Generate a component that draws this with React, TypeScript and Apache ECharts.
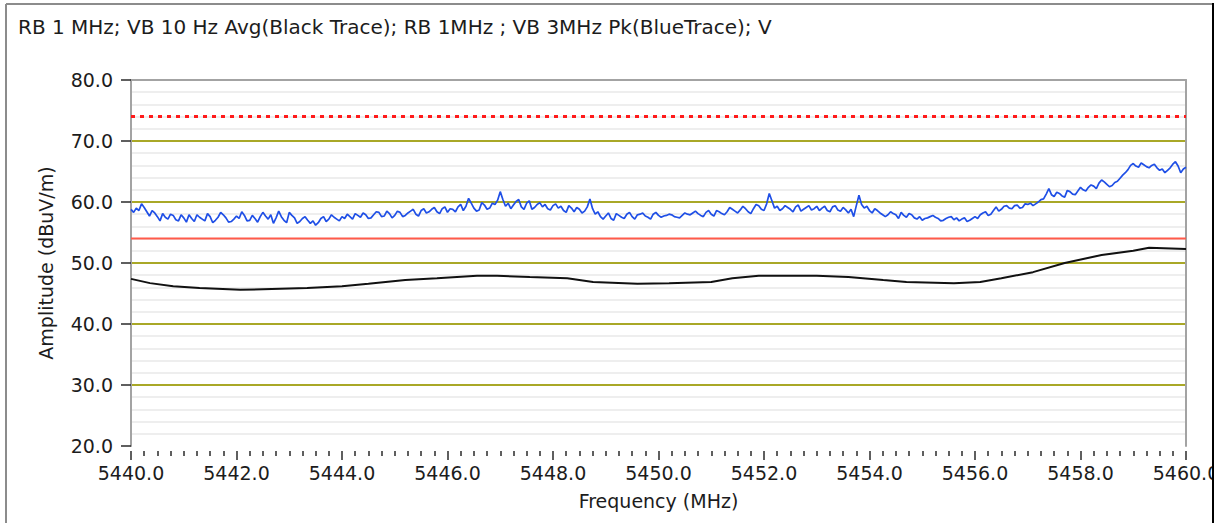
import React, { useEffect, useRef } from "react";
import * as echarts from "echarts";

// Sweep settings for the analyzer traces (MHz)
const sweepStart = 5440;
const sweepStep = 0.05;

// Peak detector trace (RB 1 MHz, VB 3 MHz), dBuV/m, one value per sweep step
const peakTrace = [
  58.8,
  58.3, 59.0, 58.6, 59.7, 59.1, 58.4, 57.7, 58.6, 58.2, 57.6, 56.9, 58.1, 57.5, 57.2, 58.0, 57.8, 57.1, 56.9, 57.9, 57.4,
  56.7, 57.9, 57.3, 56.8, 57.9, 57.5, 57.2, 56.9, 58.1, 57.6, 56.6, 57.0, 57.5, 58.3, 57.9, 57.4, 56.7, 56.8, 57.2, 57.7,
  57.3, 58.4, 57.8, 56.9, 57.0, 57.8, 57.3, 56.7, 57.6, 58.3, 57.7, 57.2, 57.9, 56.5, 57.4, 58.5, 57.6, 57.0, 56.6, 58.3,
  57.8, 57.4, 56.5, 56.8, 57.3, 57.6, 57.0, 56.5, 56.9, 56.2, 56.6, 57.3, 57.6, 56.8, 57.2, 57.9, 57.5, 57.2, 56.9, 57.6,
  57.3, 58.0, 57.6, 57.2, 58.1, 57.8, 57.5, 58.2, 57.9, 57.3, 57.4, 57.9, 58.4, 58.3, 57.6, 57.7, 58.5, 58.1, 57.4, 57.8,
  58.5, 58.3, 57.6, 57.8, 58.2, 58.5, 58.8, 58.0, 57.7, 58.6, 58.9, 58.2, 58.4, 58.8, 59.1, 58.4, 58.1, 58.9, 59.2, 58.3,
  58.9, 58.8, 58.4, 59.2, 59.6, 58.6, 59.3, 60.6, 59.8, 59.0, 58.5, 58.7, 59.9, 59.5, 58.8, 59.0, 59.8, 59.6, 60.3, 61.7,
  60.4, 59.3, 59.8, 58.9, 59.5, 60.1, 60.4, 59.2, 58.8, 59.8, 60.2, 58.8, 59.1, 59.6, 59.9, 59.2, 59.6, 58.9, 58.7, 59.4,
  59.7, 59.0, 59.3, 58.6, 58.3, 59.4, 59.0, 58.4, 59.1, 58.8, 58.2, 58.5, 59.2, 60.5, 58.9, 58.0, 58.4, 57.6, 57.2, 57.7,
  58.2, 57.3, 57.0, 58.1, 57.8, 57.5, 57.3, 58.0, 58.3, 57.6, 57.2, 57.9, 58.0, 58.2, 57.7, 57.5, 57.2, 58.0, 58.3, 57.8,
  57.5, 57.7, 57.8, 58.0, 57.9, 57.6, 57.5, 57.4, 57.8, 58.2, 58.0, 57.9, 58.2, 58.5, 58.1, 57.8, 57.6, 58.3, 58.6, 58.0,
  57.7, 58.6, 58.4, 58.1, 57.9, 58.4, 59.1, 58.8, 58.5, 58.2, 58.7, 59.3, 58.9, 58.4, 58.1, 58.9, 59.6, 59.4, 58.8, 58.6,
  59.7, 61.4, 60.2, 59.0, 59.3, 58.6, 58.9, 59.4, 59.1, 58.8, 58.4, 59.2, 59.5, 58.5, 58.8, 59.1, 59.4, 58.7, 58.9, 59.3,
  58.6, 59.0, 59.3, 58.6, 58.4, 59.2, 59.4, 58.7, 58.5, 59.1, 58.7, 58.2, 58.8, 57.6, 59.4, 61.1, 59.6, 59.0, 59.3, 58.6,
  58.2, 58.9, 58.6, 58.2, 57.9, 57.6, 57.9, 58.4, 58.1, 57.9, 57.3, 58.3, 57.8, 57.5, 58.1, 57.9, 57.4, 57.2, 57.6, 57.0,
  57.3, 57.4, 57.6, 57.8, 57.5, 57.3, 56.9, 57.0, 57.3, 57.5, 57.6, 57.1, 57.4, 56.9, 57.2, 57.4, 56.8, 57.0, 57.3, 57.6,
  57.3, 57.9, 58.2, 58.4, 57.8, 58.0, 58.6, 59.2, 58.5, 58.8, 59.3, 59.4, 59.0, 58.9, 59.4, 59.5, 59.0, 59.1, 59.7, 59.6,
  59.8, 59.4, 59.7, 60.0, 60.4, 60.5, 61.3, 62.2, 61.2, 60.9, 61.6, 61.4, 61.0, 60.8, 61.9, 61.7, 61.3, 61.2, 61.8, 62.4,
  62.0, 61.8, 62.4, 62.8, 62.6, 62.2, 63.1, 63.6, 63.3, 62.9, 62.5, 62.7, 63.2, 63.4, 63.9, 64.4, 64.8, 65.3, 66.0, 66.3,
  65.9, 65.7, 66.4, 66.1, 65.8, 65.6, 66.0, 66.2, 65.6, 65.2, 65.4, 64.8, 65.2, 65.6, 66.2, 66.6, 65.9, 64.8, 65.4, 65.7,
];

// Average detector trace (RB 1 MHz, VB 10 Hz)
const avgFreq = [
  5440.0, 5440.36, 5440.8, 5441.3, 5442.07, 5443.34, 5444.0, 5444.5, 5445.2,
  5445.8, 5446.56, 5446.94, 5447.56, 5448.27, 5448.76, 5449.6, 5450.2, 5451.0,
  5451.4, 5451.9, 5453.0, 5453.6, 5454.26, 5454.7, 5455.6, 5456.1, 5456.5,
  5457.1, 5457.7, 5458.4, 5459.0, 5459.3, 5460.0,
];
const avgTrace = [
  47.4, 46.7, 46.2, 45.9, 45.6, 45.9, 46.2, 46.6, 47.2,
  47.5, 47.9, 47.9, 47.7, 47.5, 46.9, 46.6, 46.7, 46.9,
  47.5, 47.9, 47.9, 47.7, 47.2, 46.9, 46.7, 46.9, 47.5,
  48.5, 50.0, 51.3, 52.0, 52.5, 52.3,
];

// Limit lines (dBuV/m)
const peakLimit = 74;
const avgLimit = 54;

const titleText =
  "RB 1 MHz; VB 10 Hz Avg(Black Trace); RB 1MHz ; VB 3MHz Pk(BlueTrace); V";

const FONT = "DejaVu Sans";
const TEXT_COLOR = "#1c1c1c";
const FRAME_GRAY = "#a3a3a3";

export default function App() {
  const ref = useRef<HTMLDivElement>(null);

  useEffect(() => {
    if (!ref.current) return;
    const chart = echarts.init(ref.current, null, { renderer: "svg" });

    const peakData = peakTrace.map((v, i) => [
      +(sweepStart + i * sweepStep).toFixed(2),
      v,
    ]);
    const avgData = avgTrace.map((v, i) => [avgFreq[i], v]);
    const fMin = sweepStart;
    const fMax = avgFreq[avgFreq.length - 1];

    const labelStyle = {
      fontFamily: FONT,
      fontSize: 19,
      color: TEXT_COLOR,
    };

    chart.setOption({
      animation: false,
      backgroundColor: "#ffffff",
      title: {
        text: titleText,
        left: 13,
        top: 12,
        textStyle: { ...labelStyle, fontSize: 20, fontWeight: "normal" },
      },
      grid: { left: 131, right: 39, top: 80, bottom: 77, containLabel: false },
      xAxis: [
        {
          type: "value",
          min: fMin,
          max: fMax,
          interval: 2,
          offset: 5,
          axisLine: { show: false },
          axisTick: {
            show: true,
            length: 9,
            lineStyle: { color: "#2a2a2a", width: 1.5 },
          },
          minorTick: {
            show: true,
            splitNumber: 8,
            length: 5,
            lineStyle: { color: "#2a2a2a", width: 1.5 },
          },
          axisLabel: {
            ...labelStyle,
            margin: 12,
            formatter: (v: number) => v.toFixed(1),
          },
          splitLine: { show: false },
          name: "Frequency (MHz)",
          nameLocation: "middle",
          nameGap: 40,
          nameTextStyle: labelStyle,
        },
        {
          type: "value",
          position: "top",
          min: fMin,
          max: fMax,
          axisLine: { show: true, lineStyle: { color: FRAME_GRAY, width: 2 } },
          axisTick: { show: false },
          axisLabel: { show: false },
          splitLine: { show: false },
        },
      ],
      yAxis: [
        {
          type: "value",
          min: 20,
          max: 80,
          interval: 10,
          axisLine: { show: true, lineStyle: { color: FRAME_GRAY, width: 2 } },
          axisTick: {
            show: true,
            length: 10,
            lineStyle: { color: "#2a2a2a", width: 1.5 },
          },
          axisLabel: {
            ...labelStyle,
            margin: 18,
            formatter: (v: number) => v.toFixed(1),
          },
          splitLine: {
            show: true,
            showMinLine: false,
            showMaxLine: false,
            lineStyle: { color: "#a9a827", width: 2 },
          },
          minorTick: { show: false, splitNumber: 5 },
          minorSplitLine: {
            show: true,
            lineStyle: { color: "#e9e9e9", width: 1.5 },
          },
          name: "Amplitude (dBuV/m)",
          nameLocation: "middle",
          nameGap: 76,
          nameTextStyle: labelStyle,
        },
        {
          type: "value",
          position: "right",
          min: 20,
          max: 80,
          axisLine: { show: true, lineStyle: { color: FRAME_GRAY, width: 2 } },
          axisTick: { show: false },
          axisLabel: { show: false },
          splitLine: { show: false },
        },
      ],
      series: [
        {
          name: "Peak limit",
          type: "line",
          data: [
            [fMin, peakLimit],
            [fMax, peakLimit],
          ],
          symbol: "none",
          lineStyle: { color: "#ff1a1a", width: 3, type: [4, 5] },
          silent: true,
        },
        {
          name: "Average limit",
          type: "line",
          data: [
            [fMin, avgLimit],
            [fMax, avgLimit],
          ],
          symbol: "none",
          lineStyle: { color: "#ff5a4a", width: 2 },
          silent: true,
        },
        {
          name: "Average",
          type: "line",
          data: avgData,
          symbol: "none",
          lineStyle: { color: "#111111", width: 2 },
          silent: true,
        },
        {
          name: "Peak",
          type: "line",
          data: peakData,
          symbol: "none",
          lineStyle: { color: "#1f4fe6", width: 1.7 },
          silent: true,
        },
      ],
      graphic: [
        // outer panel edges
        {
          type: "rect",
          shape: { x: 1214, y: 0, width: 11, height: 523 },
          style: { fill: "#ffffff" },
          z: 100,
        },
        {
          type: "line",
          shape: { x1: 6, y1: 4, x2: 1213, y2: 4 },
          style: { stroke: "#8c8c8c", lineWidth: 2 },
          z: 101,
        },
        {
          type: "line",
          shape: { x1: 6, y1: 4, x2: 6, y2: 523 },
          style: { stroke: "#8c8c8c", lineWidth: 2 },
          z: 101,
        },
        {
          type: "line",
          shape: { x1: 1213, y1: 3, x2: 1213, y2: 523 },
          style: { stroke: "#000000", lineWidth: 2 },
          z: 101,
        },
      ],
    });

    return () => chart.dispose();
  }, []);

  return (
    <div
      ref={ref}
      style={{ position: "fixed", left: 0, top: 0, width: 1225, height: 523 }}
    />
  );
}
